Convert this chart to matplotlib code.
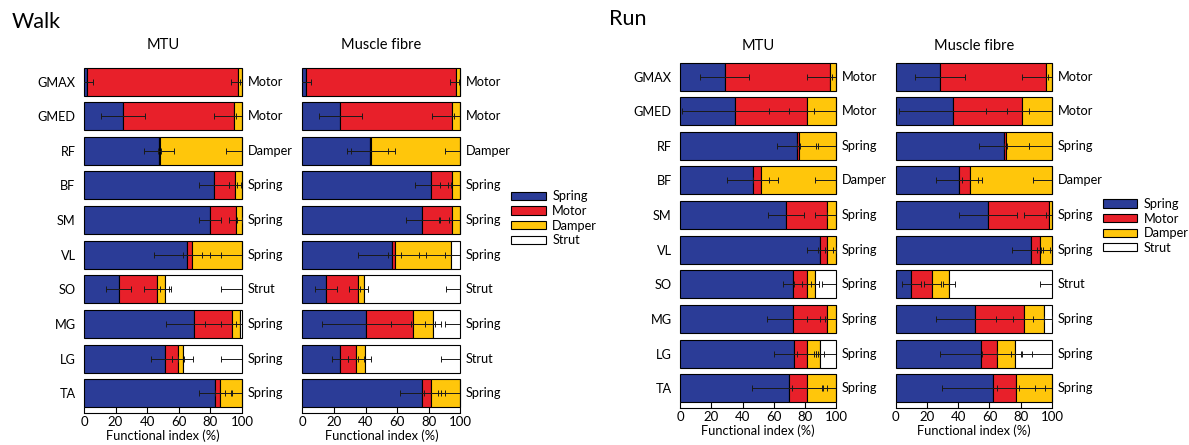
import numpy as np
import matplotlib
matplotlib.use("Agg")
import matplotlib.pyplot as plt
from matplotlib.patches import Patch

plt.rcParams['font.family'] = ['Lato', 'DejaVu Sans']

# muscles, top to bottom
muscles = ['GMAX', 'GMED', 'RF', 'BF', 'SM', 'VL', 'SO', 'MG', 'LG', 'TA']
functions = ['Spring', 'Motor', 'Damper', 'Strut']

# mean functional index (%) per muscle, rows = spring, motor, damper, strut
walk_mtu_mean = [
    [2, 24.5, 47.5, 82, 80, 65.5, 22, 69.5, 51, 83],
    [95.5, 70.5, 0.5, 13.5, 16, 3, 24, 24, 8.5, 3],
    [2.5, 5, 52, 4.5, 4, 31.5, 5.5, 5.5, 3, 14],
    [0, 0, 0, 0, 0, 0, 48.5, 1, 37.5, 0],
]
walk_mtu_sd = [
    [4, 14, 9.5, 9.5, 7, 21, 8, 17.5, 8.5, 10.5],
    [4.5, 13, 1, 4, 4, 6, 8, 17, 4, 3],
    [1, 3.5, 10, 3, 3, 20, 3.5, 3, 6.5, 7],
    [0, 0, 0, 0, 0, 0, 13, 1, 13, 0],
]
walk_fib_mean = [
    [2, 24, 42.5, 81.5, 76, 56.5, 15, 40.5, 24, 76],
    [95.5, 70.5, 1, 13.5, 19, 2, 20.5, 29.5, 10, 5.5],
    [2.5, 5.5, 56.5, 5, 5, 35.5, 3.5, 12.5, 5.5, 18.5],
    [0, 0, 0, 0, 0, 6, 61, 17.5, 60.5, 0],
]
walk_fib_sd = [
    [3.2, 13.5, 12, 10.5, 10.5, 21.5, 7, 28, 5, 14],
    [4.2, 12.6, 15, 8, 8, 4, 6, 14, 5, 4.5],
    [1, 4, 10, 6, 7, 20, 2.5, 5, 4, 12],
    [0, 0, 0, 0, 0, 10, 9, 10, 12, 0],
]
run_mtu_mean = [
    [28.5, 35.5, 75, 46.5, 68, 89.5, 72, 72.5, 73, 70],
    [67.5, 45.5, 1, 5.5, 26, 4.5, 9, 21.5, 8, 11.5],
    [4, 19, 24, 48, 6, 6, 5.5, 6, 8.5, 18.5],
    [0, 0, 0, 0, 0, 0, 13.5, 0, 10.5, 0],
]
run_mtu_sd = [
    [15.5, 34, 13, 16.5, 11.5, 8.5, 6, 17, 13, 24],
    [15, 24, 1, 5, 7.5, 6, 8, 13, 6, 10],
    [2.5, 14, 13, 13.5, 6, 7, 2.5, 7, 2.5, 9],
    [0, 0, 0, 0, 0, 0, 9, 0, 12, 0],
]
run_fib_mean = [
    [28.5, 36.5, 69.5, 40.5, 59, 86.5, 10, 50.5, 54.5, 62.5],
    [67.5, 44.5, 1, 7, 39, 6, 13.5, 31.5, 10, 14.5],
    [4, 19, 29.5, 52.5, 2, 7.5, 10.5, 13, 11.5, 23],
    [0, 0, 0, 0, 0, 0, 66, 5, 24, 0],
]
run_fib_sd = [
    [16, 34.5, 16, 14.5, 18.3, 12, 6.2, 24.5, 26, 33],
    [15, 23.5, 1, 5, 15.7, 2, 5.2, 18, 9, 12],
    [2.5, 14.5, 15, 12, 3.8, 7, 4, 7, 11, 21],
    [0, 0, 0, 0, 0, 0, 8, 5, 20, 0],
]

# dominant function per muscle
walk_mtu_class = ['Motor', 'Motor', 'Damper', 'Spring', 'Spring', 'Spring', 'Strut', 'Spring', 'Spring', 'Spring']
walk_fib_class = ['Motor', 'Motor', 'Damper', 'Spring', 'Spring', 'Spring', 'Strut', 'Spring', 'Strut', 'Spring']
run_mtu_class = ['Motor', 'Motor', 'Spring', 'Damper', 'Spring', 'Spring', 'Spring', 'Spring', 'Spring', 'Spring']
run_fib_class = ['Motor', 'Motor', 'Spring', 'Damper', 'Spring', 'Spring', 'Strut', 'Spring', 'Spring', 'Spring']

colors = ['#2B3C97', '#E8202A', '#FFC60B', '#FFFFFF']


def stacked_panel(ax, means, sds, classes, title, show_names, title_pad):
    y = np.arange(len(muscles))
    means = np.array(means, dtype=float)
    sds = np.array(sds, dtype=float)
    left = np.zeros(len(muscles))
    for k in range(4):
        ax.barh(y, means[k], left=left, height=0.81, color=colors[k],
                edgecolor='black', linewidth=0.8, clip_on=False, zorder=2)
        left = left + means[k]
        # error bar at the cumulative edge of each component
        keep = sds[k] > 0
        ax.errorbar(left[keep], y[keep], xerr=sds[k][keep], fmt='none',
                    ecolor='#1a1a1a', elinewidth=0.7, capsize=2.2,
                    capthick=0.7, zorder=3)
    for i, c in enumerate(classes):
        ax.text(103.5, i, c, va='center', ha='left', fontsize=9.2, clip_on=False)
    ax.set_xlim(0, 100)
    ax.set_ylim(9.56, -0.42)
    ax.set_xticks([0, 20, 40, 60, 80, 100])
    ax.tick_params(axis='x', direction='in', length=4, width=0.8, pad=2.5,
                   labelsize=9.5)
    ax.set_yticks(y)
    if show_names:
        ax.set_yticklabels(muscles, fontsize=9.2)
    else:
        ax.set_yticklabels([])
    ax.tick_params(axis='y', length=0, pad=6)
    for s in ['top', 'right', 'left']:
        ax.spines[s].set_visible(False)
    ax.spines['bottom'].set_linewidth(0.8)
    ax.set_xlabel('Functional index (%)', fontsize=9.3, labelpad=1)
    ax.set_title(title, fontsize=10.5, pad=title_pad)


fig = plt.figure(figsize=(11.89, 4.45), dpi=100)

ax1 = fig.add_axes([0.0706, 0.0728, 0.1329, 0.7766])
ax2 = fig.add_axes([0.2543, 0.0728, 0.1329, 0.7766])
ax3 = fig.add_axes([0.5719, 0.0840, 0.1315, 0.7766])
ax4 = fig.add_axes([0.7533, 0.0840, 0.1315, 0.7766])

stacked_panel(ax1, walk_mtu_mean, walk_mtu_sd, walk_mtu_class, 'MTU', True, 13)
stacked_panel(ax2, walk_fib_mean, walk_fib_sd, walk_fib_class, 'Muscle fibre', False, 13)
stacked_panel(ax3, run_mtu_mean, run_mtu_sd, run_mtu_class, 'MTU', True, 9)
stacked_panel(ax4, run_fib_mean, run_fib_sd, run_fib_class, 'Muscle fibre', False, 9)

fig.text(0.010, 0.950, 'Walk', fontsize=15.5, va='center', ha='left')
fig.text(0.512, 0.958, 'Run', fontsize=15.5, va='center', ha='left')

handles = [Patch(facecolor=c, edgecolor='black', linewidth=0.8) for c in colors]
for x0, y0 in [(0.430, 0.572), (0.9275, 0.555)]:
    fig.legend(handles, functions, loc='upper left', bbox_to_anchor=(x0, y0),
               frameon=False, fontsize=9.2, handlelength=2.7, handleheight=0.6,
               handletextpad=0.5, labelspacing=0.2, borderpad=0, borderaxespad=0)

fig.savefig('out.png', dpi=100)
